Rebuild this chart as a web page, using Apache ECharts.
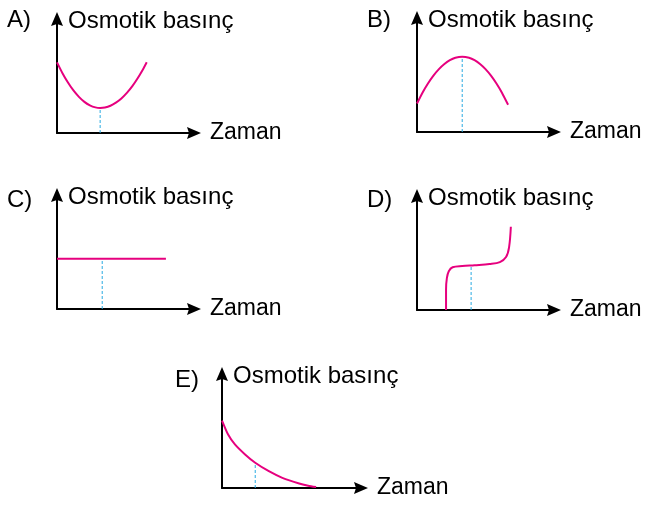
<!DOCTYPE html>
<html>
<head>
<meta charset="utf-8">
<script src="https://cdn.jsdelivr.net/npm/echarts@6/dist/echarts.min.js"></script>
<style>
  html, body { margin: 0; padding: 0; background: #fff; }
  #chart { width: 648px; height: 506px; }
</style>
</head>
<body>
<div id="chart"></div>
<script>
// panel letters and axis names
const panels = ['A)', 'B)', 'C)', 'D)', 'E)']
const yName = 'Osmotik basınç'
const xName = 'Zaman'

// curves (x: time, y: osmotic pressure, 0..10 scale)
const curveA = [[0, 6.2], [0.4, 5.25], [0.8, 4.43], [1.2, 3.73], [1.6, 3.17], [2.0, 2.73], [2.4, 2.43], [2.8, 2.25], [3.15, 2.2],
  [3.5, 2.24], [3.9, 2.39], [4.3, 2.66], [4.7, 3.03], [5.1, 3.52], [5.5, 4.11], [5.9, 4.82], [6.25, 5.52], [6.55, 6.2]]
const curveB = [[0, 2.5], [0.4, 3.45], [0.8, 4.26], [1.2, 4.95], [1.6, 5.52], [2.0, 5.97], [2.4, 6.3], [2.8, 6.51], [3.3, 6.6],
  [3.8, 6.51], [4.2, 6.3], [4.6, 5.97], [5.0, 5.52], [5.4, 4.95], [5.8, 4.26], [6.2, 3.45], [6.65, 2.39]]
const curveC = [[0, 4.4], [7.95, 4.4]]
const curveD = [[2.12, 0], [2.12, 1.8], [2.18, 2.8], [2.32, 3.4], [2.6, 3.75], [3.3, 3.86], [4.2, 3.93], [5.3, 4.03], [6.05, 4.2], [6.5, 4.65], [6.72, 5.5], [6.85, 7.3]]
const curveE = [[0, 5.92], [0.44, 4.69], [0.93, 3.82], [1.66, 2.94], [2.39, 2.21], [3.37, 1.47], [4.34, 0.89], [5.55, 0.39], [6.2, 0.2], [6.77, 0.08]]

// dashed guide lines: [x, top of guide]
const guides = [[3.15, 2.2], [3.3, 6.6], [3.3, 4.4], [3.95, 3.93], [2.39, 2.21]]

const curves = [curveA, curveB, curveC, curveD, curveE]

// grid boxes and letter spots
const boxes = [
  { left: 57, top: 19, width: 137, height: 114 },
  { left: 417, top: 18, width: 137, height: 114 },
  { left: 57, top: 195, width: 137, height: 114 },
  { left: 417, top: 196, width: 137, height: 114 },
  { left: 222, top: 374, width: 139, height: 114 }
]
const letterPos = [[7, 8], [367, 8], [7, 188], [367, 188], [175, 368]]

const myChart = echarts.init(document.getElementById('chart'))

// filled arrow head with a shallow notch
const arrowHead = 'path://M6,0 L12,14 L6,12 L0,14 Z'

const axisLineStyle = {
  show: true,
  onZero: false,
  symbol: ['none', arrowHead],
  symbolSize: [12, 14],
  lineStyle: { color: '#000', width: 2 }
}

const option = {
  animation: false,
  title: panels.map((p, i) => ({
    text: p,
    left: letterPos[i][0],
    top: letterPos[i][1],
    padding: 0,
    textStyle: { fontFamily: 'Liberation Sans', fontSize: 24, fontWeight: 'normal', color: '#000' }
  })),
  grid: boxes.map((b) => ({ ...b, outerBoundsMode: 'none', containLabel: false })),
  xAxis: boxes.map((b, i) => ({
    type: 'value',
    gridIndex: i,
    min: 0,
    max: 10,
    name: xName,
    nameLocation: 'end',
    nameGap: 16,
    nameTextStyle: { fontFamily: 'Liberation Sans', fontSize: 23, color: '#000', align: 'left', verticalAlign: 'middle' },
    axisLine: axisLineStyle,
    axisTick: { show: false },
    axisLabel: { show: false },
    splitLine: { show: false }
  })),
  yAxis: boxes.map((b, i) => ({
    type: 'value',
    gridIndex: i,
    min: 0,
    max: 10,
    name: yName,
    nameLocation: 'end',
    nameGap: -2,
    nameTextStyle: { fontFamily: 'Liberation Sans', fontSize: 24, color: '#000', align: 'left', verticalAlign: 'middle', padding: [0, 0, 0, 11] },
    axisLine: axisLineStyle,
    axisTick: { show: false },
    axisLabel: { show: false },
    splitLine: { show: false }
  })),
  series: [
    ...curves.map((c, i) => ({
      type: 'line',
      xAxisIndex: i,
      yAxisIndex: i,
      data: c,
      smooth: i === 3 ? 0.35 : 0.2,
      symbol: 'none',
      lineStyle: { color: '#e6007e', width: 2 },
      z: 3
    })),
    ...guides.map((g, i) => ({
      type: 'line',
      xAxisIndex: i,
      yAxisIndex: i,
      data: [[g[0], 0], [g[0], g[1]]],
      symbol: 'none',
      lineStyle: { color: '#29abe2', width: 1, type: [3, 2] },
      z: 2
    }))
  ]
}

myChart.setOption(option)
</script>
</body>
</html>
